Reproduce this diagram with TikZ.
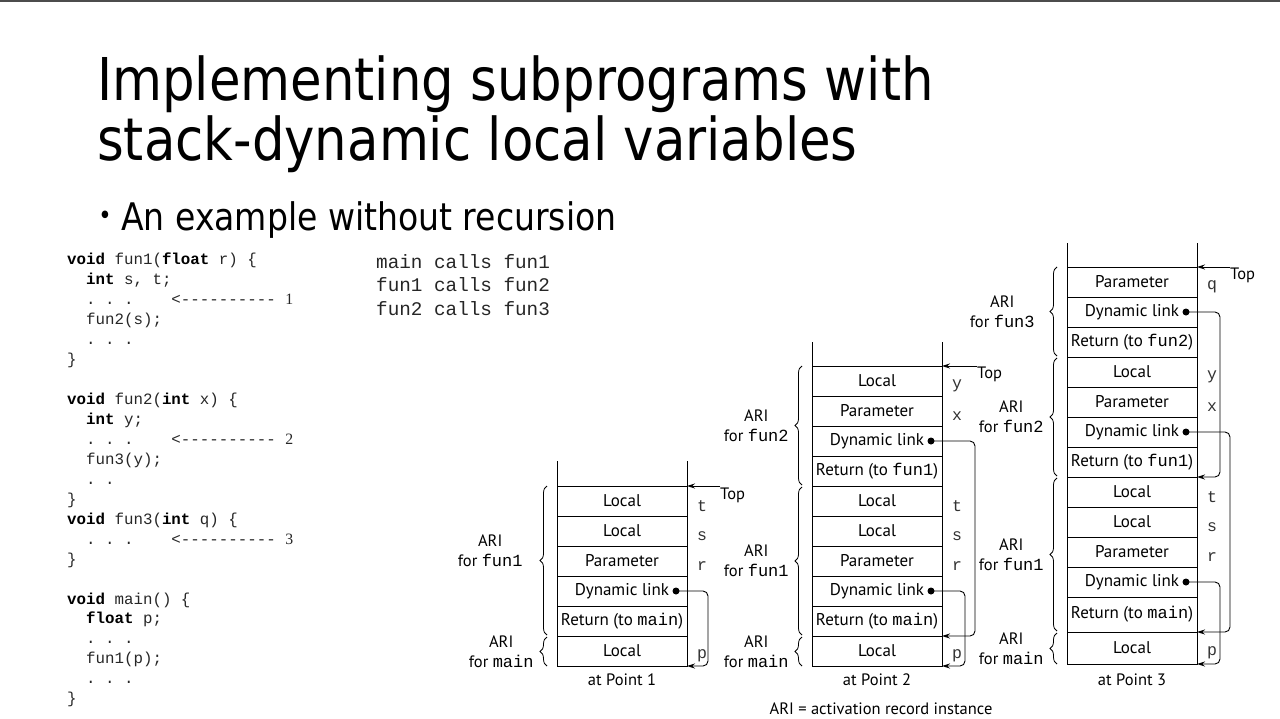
\documentclass[tikz,border=0pt]{standalone}
\usepackage{fontspec}
\setmainfont{PT Sans}
\setmonofont{Liberation Mono}
\newfontfamily\titlefont{DejaVu Sans}[FakeStretch=0.87]
\newfontfamily\numfont{Liberation Serif}
\usetikzlibrary{arrows.meta,positioning,calc,decorations.pathreplacing}

\newcommand{\cd}[1]{{\ttfamily\fontsize{17}{20}\selectfont #1}}

\tikzset{
  cell/.style={draw, line width=0.9pt, minimum width=130pt, minimum height=30pt,
    inner sep=0pt, outer sep=0pt, font=\fontsize{17}{20}\selectfont},
  varlab/.style={anchor=west, inner sep=0pt, text=black!80, font=\ttfamily\fontsize{16.5}{20}\selectfont},
  arilab/.style={align=center, inner sep=0pt, font=\fontsize{16.5}{20}\selectfont},
  lbl/.style={inner sep=0pt, font=\fontsize{16.5}{20}\selectfont},
  dot/.style={circle, fill, inner sep=0pt, minimum size=7pt},
  link/.style={line width=0.9pt, rounded corners=5pt, -{Stealth[length=8pt,width=5pt]}},
  toparr/.style={line width=0.9pt, -{Stealth[length=8pt,width=5pt]}},
  brc/.style={decorate, line width=0.8pt, decoration={brace, amplitude=7pt}},
}

\begin{document}
\begin{tikzpicture}[x=1pt,y=-1pt]
  \useasboundingbox (0,0) rectangle (1280,718);
  \draw[line width=2pt, black!70] (0,1) -- (1280,1);

  % title and bullet
  \node[anchor=base west, inner sep=0pt, font=\titlefont\fontsize{59}{70}\selectfont]
    (title1) at (97,100) {Implementing subprograms with};
  \node[anchor=base west, inner sep=0pt, font=\titlefont\fontsize{59}{70}\selectfont]
    (title2) at (97,160) {stack-dynamic local variables};
  \node[inner sep=0pt, font=\titlefont\fontsize{26}{30}\selectfont] (bul) at (105,218) {•};
  \node[anchor=base west, inner sep=0pt, font=\titlefont\fontsize{38}{45}\selectfont]
    (sub) at (121,230) {An example without recursion};

  % program text
  \node[anchor=north west, align=left, inner sep=0pt, text=black!85,
    font=\ttfamily\fontsize{15.8}{19.95}\selectfont] (code) at (67,253) {%
\textbf{\color{black}void} fun1(\textbf{\color{black}float} r) \{\\
~~\textbf{\color{black}int} s, t;\\
~~.~.~.~~~~<----------~{\numfont 1}\\
~~fun2(s);\\
~~.~.~.\\
\}\\
~\\
\textbf{\color{black}void} fun2(\textbf{\color{black}int} x) \{\\
~~\textbf{\color{black}int} y;\\
~~.~.~.~~~~<----------~{\numfont 2}\\
~~fun3(y);\\
~~.~.\\
\}\\
\textbf{\color{black}void} fun3(\textbf{\color{black}int} q) \{\\
~~.~.~.~~~~<----------~{\numfont 3}\\
\}\\
~\\
\textbf{\color{black}void} main() \{\\
~~\textbf{\color{black}float} p;\\
~~.~.~.\\
~~fun1(p);\\
~~.~.~.\\
\}};

  \node[anchor=north west, align=left, inner sep=0pt, text=black!85,
    font=\ttfamily\fontsize{19.3}{23.5}\selectfont] (calls) at (376,254) {%
main calls fun1\\
fun1 calls fun2\\
fun2 calls fun3};

  % stack at point 1
  \foreach \txt/\yc [count=\i] in {Local/501, Local/531, Parameter/561,
      Dynamic link/591, Return (to \cd{main})/621, Local/651}
    \node[cell] (pa\i) at (622,\yc) {\txt};
  \foreach \i/\v in {1/t,2/s,3/r,6/p}
    \node[varlab] (va\i) at ($(pa\i.east)+(10,5)$) {\v};
  \draw[line width=0.9pt] (pa1.north west) -- ++(0,-25);
  \draw[line width=0.9pt] (pa1.north east) -- ++(0,-25);
  \node[lbl, anchor=west] (topa) at (720,495) {Top};
  \draw[toparr] (topa.west |- pa1.north east) -- (pa1.north east);
  \node[dot] (da) at ($(pa4.east)+(-11,0)$) {};
  \draw[link] (da.center) -- ++(32,0) |- (pa6.south east);
  \draw[brc] ($(pa5.south west)+(-10,-1)$) --
    node[arilab, left=24pt, yshift=10pt] (aria1) {ARI\\for \cd{fun1}} ($(pa1.north west)+(-10,0)$);
  \draw[brc] ($(pa6.south west)+(-10,0)$) --
    node[arilab, left=13pt] (aria2) {ARI\\for \cd{main}} ($(pa6.north west)+(-10,1)$);
  \node[lbl] (capa) at (622,680) {at Point 1};

  % stack at point 2
  \foreach \txt/\yc [count=\i] in {Local/381, Parameter/411, Dynamic link/441,
      Return (to \cd{fun1})/471, Local/501, Local/531, Parameter/561,
      Dynamic link/591, Return (to \cd{main})/621, Local/651}
    \node[cell] (pb\i) at (877,\yc) {\txt};
  \foreach \i/\v in {1/y,2/x,5/t,6/s,7/r,10/p}
    \node[varlab] (vb\i) at ($(pb\i.east)+(10,5)$) {\v};
  \draw[line width=0.9pt] (pb1.north west) -- ++(0,-24);
  \draw[line width=0.9pt] (pb1.north east) -- ++(0,-24);
  \node[lbl, anchor=west] (topb) at (977,374) {Top};
  \draw[toparr] (topb.west |- pb1.north east) -- (pb1.north east);
  \node[dot] (db3) at ($(pb3.east)+(-11,0)$) {};
  \node[dot] (db8) at ($(pb8.east)+(-11,0)$) {};
  \draw[link] (db3.center) -- ++(44,0) |- (pb9.south east);
  \draw[link] (db8.center) -- ++(34,0) |- (pb10.south east);
  \draw[brc] ($(pb4.south west)+(-10,-1)$) --
    node[arilab, left=13pt] (arib1) {ARI\\for \cd{fun2}} ($(pb1.north west)+(-10,0)$);
  \draw[brc] ($(pb9.south west)+(-10,-1)$) --
    node[arilab, left=13pt] (arib2) {ARI\\for \cd{fun1}} ($(pb5.north west)+(-10,1)$);
  \draw[brc] ($(pb10.south west)+(-10,0)$) --
    node[arilab, left=13pt] (arib3) {ARI\\for \cd{main}} ($(pb10.north west)+(-10,1)$);
  \node[lbl] (capb) at (877,680) {at Point 2};

  % stack at point 3
  \foreach \txt/\yc/\hh [count=\i] in {Parameter/282/30, Dynamic link/312/30,
      Return (to \cd{fun2})/342/30, Local/372/30, Parameter/402/30,
      Dynamic link/432/30, Return (to \cd{fun1})/462/30, Local/492/30,
      Local/522/30, Parameter/552/30, Dynamic link/582/30,
      Return (to \cd{main})/614.5/35, Local/648/32}
    \node[cell, minimum height=\hh] (pc\i) at (1132,\yc) {\txt};
  \foreach \i/\v in {1/q,4/y,5/x,8/t,9/s,10/r,13/p}
    \node[varlab] (vc\i) at ($(pc\i.east)+(10,5)$) {\v};
  \draw[line width=0.9pt] (pc1.north west) -- ++(0,-24);
  \draw[line width=0.9pt] (pc1.north east) -- ++(0,-24);
  \node[lbl, anchor=west] (topc) at (1230,275) {Top};
  \draw[toparr] (topc.west |- pc1.north east) -- (pc1.north east);
  \node[dot] (dc2) at ($(pc2.east)+(-11,0)$) {};
  \node[dot] (dc6) at ($(pc6.east)+(-11,0)$) {};
  \node[dot] (dc11) at ($(pc11.east)+(-11,0)$) {};
  \draw[link] (dc2.center) -- ++(34,0) |- (pc7.south east);
  \draw[link] (dc6.center) -- ++(44,0) |- (pc12.south east);
  \draw[link] (dc11.center) -- ++(34,0) |- (pc13.south east);
  \draw[brc] ($(pc3.south west)+(-10,-1)$) --
    node[arilab, left=22pt] (aric1) {ARI\\for \cd{fun3}} ($(pc1.north west)+(-10,0)$);
  \draw[brc] ($(pc7.south west)+(-10,-1)$) --
    node[arilab, left=13pt] (aric2) {ARI\\for \cd{fun2}} ($(pc4.north west)+(-10,1)$);
  \draw[brc] ($(pc12.south west)+(-10,-1)$) --
    node[arilab, left=13pt] (aric3) {ARI\\for \cd{fun1}} ($(pc8.north west)+(-10,1)$);
  \draw[brc] ($(pc13.south west)+(-10,0)$) --
    node[arilab, left=13pt] (aric4) {ARI\\for \cd{main}} ($(pc13.north west)+(-10,1)$);
  \node[lbl] (capc) at (1132,680) {at Point 3};

  \node[lbl] (note) at (881,709) {ARI = activation record instance};
\end{tikzpicture}
\end{document}
